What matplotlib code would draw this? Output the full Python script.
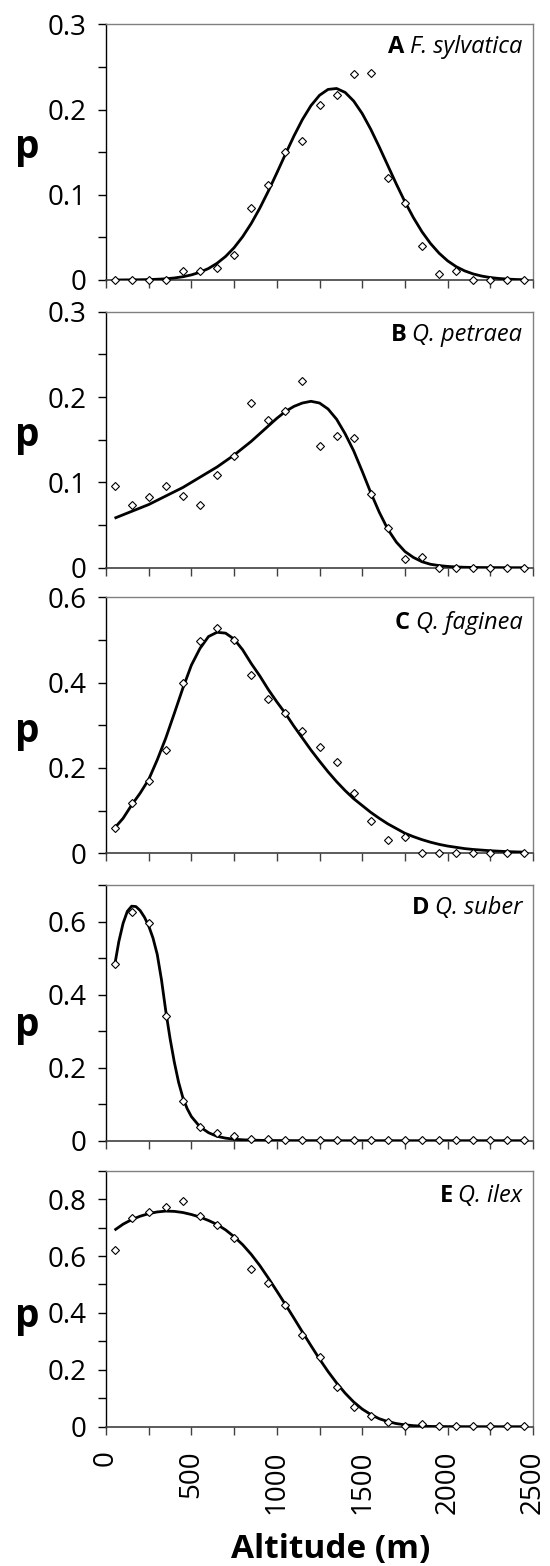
import matplotlib
matplotlib.use('Agg')
import matplotlib.pyplot as plt
from matplotlib.ticker import MultipleLocator

plt.rcParams['font.family'] = ['Open Sans', 'DejaVu Sans']

# ---------------- data ----------------
alt_points = [50, 150, 250, 350, 450, 550, 650, 750, 850, 950, 1050, 1150, 1250,
              1350, 1450, 1550, 1650, 1750, 1850, 1950, 2050, 2150, 2250, 2350, 2450]

alt_curve = [50, 100, 150, 200, 250, 300, 350, 400, 450, 500, 550, 600, 650, 700,
             750, 800, 850, 900, 950, 1000, 1050, 1100, 1150, 1200, 1250, 1300,
             1350, 1400, 1450, 1500, 1550, 1600, 1650, 1700, 1750, 1800, 1850,
             1900, 1950, 2000, 2050, 2100, 2150, 2200, 2250, 2300, 2350, 2400, 2450]

# A  F. sylvatica
obs_A = [0, 0, 0, 0, 0.010, 0.010, 0.0145, 0.029, 0.085, 0.112, 0.150, 0.163, 0.205,
         0.217, 0.242, 0.243, 0.120, 0.090, 0.040, 0.0074, 0.011, 0, 0, 0, 0]
fit_A = [0.0000, 0.0001, 0.0002, 0.0003, 0.0005, 0.0009, 0.0014, 0.0024, 0.0038,
         0.0060, 0.0091, 0.0135, 0.0196, 0.0276, 0.0379, 0.0508, 0.0662, 0.0841,
         0.1041, 0.1255, 0.1474, 0.1688, 0.1883, 0.2046, 0.2167, 0.2236, 0.2247,
         0.2201, 0.2100, 0.1953, 0.1769, 0.1561, 0.1343, 0.1125, 0.0918, 0.0731,
         0.0566, 0.0428, 0.0315, 0.0225, 0.0157, 0.0107, 0.0071, 0.0046, 0.0029,
         0.0018, 0.0011, 0.0006, 0.0003]

# B  Q. petraea
obs_B = [0.096, 0.073, 0.083, 0.096, 0.084, 0.074, 0.109, 0.131, 0.193, 0.173, 0.184,
         0.219, 0.143, 0.154, 0.152, 0.086, 0.047, 0.010, 0.012, 0, 0, 0, 0, 0, 0]
fit_B = [0.058, 0.062, 0.066, 0.070, 0.074, 0.079, 0.084, 0.089, 0.094, 0.100, 0.106,
         0.112, 0.118, 0.125, 0.132, 0.140, 0.148, 0.157, 0.166, 0.175, 0.183, 0.189,
         0.193, 0.195, 0.193, 0.186, 0.174, 0.157, 0.137, 0.113, 0.088, 0.065, 0.045,
         0.030, 0.019, 0.012, 0.007, 0.004, 0.0025, 0.0015, 0.0009, 0.0005, 0.0003,
         0.0002, 0.0001, 0.0001, 0.0, 0.0, 0.0]

# C  Q. faginea
obs_C = [0.060, 0.117, 0.170, 0.241, 0.400, 0.498, 0.527, 0.500, 0.419, 0.362, 0.330,
         0.2875, 0.248, 0.215, 0.141, 0.076, 0.031, 0.038, 0.001, 0.001, 0.001, 0.001,
         0.001, 0.001, 0.001]
fit_C = [0.059, 0.082, 0.113, 0.141, 0.173, 0.219, 0.270, 0.328, 0.387, 0.441, 0.480,
         0.508, 0.518, 0.516, 0.502, 0.477, 0.445, 0.416, 0.384, 0.355, 0.328, 0.298,
         0.270, 0.242, 0.216, 0.191, 0.168, 0.147, 0.128, 0.112, 0.096, 0.082, 0.069,
         0.058, 0.047, 0.039, 0.032, 0.026, 0.021, 0.017, 0.014, 0.011, 0.009, 0.0075,
         0.006, 0.005, 0.004, 0.0033, 0.0028]

# D  Q. suber
obs_D = [0.484, 0.625, 0.597, 0.342, 0.110, 0.038, 0.020, 0.013, 0.005, 0.005, 0.002,
         0.001, 0.001, 0.001, 0.001, 0.001, 0.001, 0.001, 0.001, 0.001, 0.001, 0.001,
         0.001, 0.001, 0.001]
alt_curve_D = [50, 75, 100, 125, 150, 175, 200, 225, 250, 275, 300, 325, 350, 375,
               400, 425, 450, 475, 500, 550, 600, 650, 700, 750, 800, 850, 900, 950,
               1000, 1100, 1200, 1300, 1400, 1500, 1600, 1700, 1800, 1900, 2000,
               2100, 2200, 2300, 2400, 2450]
fit_D = [0.478, 0.545, 0.595, 0.628, 0.642, 0.641, 0.630, 0.612, 0.588, 0.555, 0.510,
         0.440, 0.355, 0.280, 0.215, 0.160, 0.118, 0.088, 0.066, 0.038, 0.022, 0.012,
         0.007, 0.004, 0.0025, 0.0015, 0.001, 0.0006, 0.0004, 0.0002, 0.0001, 0.0,
         0.0, 0.0, 0.0, 0.0, 0.0, 0.0, 0.0, 0.0, 0.0, 0.0, 0.0, 0.0]

# E  Q. ilex
obs_E = [0.621, 0.733, 0.754, 0.773, 0.795, 0.741, 0.710, 0.662, 0.554, 0.506, 0.429,
         0.324, 0.246, 0.141, 0.070, 0.039, 0.015, 0.002, 0.009, 0.002, 0.002, 0.002,
         0.002, 0.002, 0.002]
fit_E = [0.691, 0.712, 0.728, 0.740, 0.749, 0.755, 0.758, 0.757, 0.753, 0.746, 0.737,
         0.725, 0.711, 0.692, 0.668, 0.640, 0.606, 0.567, 0.523, 0.477, 0.430, 0.382,
         0.333, 0.285, 0.238, 0.194, 0.154, 0.118, 0.087, 0.062, 0.043, 0.028, 0.018,
         0.011, 0.0065, 0.0037, 0.002, 0.001, 0.0005, 0.0003, 0.0002, 0.0001, 0.0,
         0.0, 0.0, 0.0, 0.0, 0.0, 0.0]

panel_letters = ['A', 'B', 'C', 'D', 'E']
species = ['F. sylvatica', 'Q. petraea', 'Q. faginea', 'Q. suber', 'Q. ilex']
y_max = [0.3, 0.3, 0.6, 0.7, 0.9]
y_label_step = [0.1, 0.1, 0.2, 0.2, 0.2]
y_minor_step = [0.05, 0.05, 0.1, 0.1, 0.1]
x_tick_labels = ['0', '500', '1000', '1500', '2000', '2500']
x_label_vals = [0, 500, 1000, 1500, 2000, 2500]

obs_all = [obs_A, obs_B, obs_C, obs_D, obs_E]
fit_all = [fit_A, fit_B, fit_C, fit_D, fit_E]
fit_x_all = [alt_curve, alt_curve, alt_curve, alt_curve_D, alt_curve]

# ---------------- layout ----------------
W, H = 550, 1566
fig = plt.figure(figsize=(W / 100, H / 100), dpi=100)

left_px, right_px = 106, 533
tops_px = [24.3, 311.7, 597.3, 885.0, 1170.7]
bots_px = [280.0, 567.7, 853.3, 1140.7, 1426.7]
p_base_px = [158.3, 446.3, 742.3, 1036.3, 1327.0]
spec_base_below_top = [29.0, 29.3, 31.5, 29.3, 31.0]

for i in range(5):
    hpx = bots_px[i] - tops_px[i]
    ax = fig.add_axes([left_px / W, 1 - bots_px[i] / H,
                       (right_px - left_px) / W, hpx / H])
    ax.plot(fit_x_all[i], fit_all[i], color='black', lw=2.0, zorder=3,
            solid_capstyle='butt')
    ax.plot(alt_points, obs_all[i], linestyle='none', marker='D', ms=4.2,
            mfc='white', mec='black', mew=0.8, zorder=4, clip_on=False)

    ax.set_xlim(0, 2500)
    ax.set_ylim(0, y_max[i])
    ax.xaxis.set_major_locator(MultipleLocator(500))
    ax.xaxis.set_minor_locator(MultipleLocator(250))
    ax.yaxis.set_major_locator(MultipleLocator(y_label_step[i]))
    ax.yaxis.set_minor_locator(MultipleLocator(y_minor_step[i]))

    ax.tick_params(axis='both', which='both', direction='out', length=6, width=1)
    ax.tick_params(axis='y', which='both', colors='black', labelsize=20, pad=8)
    ax.tick_params(axis='x', which='both', color='#404040', labelsize=20, pad=11)
    ax.tick_params(top=False, right=False)

    yt = []
    v = 0.0
    while v <= y_max[i] + 1e-9:
        yt.append(round(v, 2))
        v += y_label_step[i]
    ax.set_yticks(yt)
    ax.set_yticklabels(['0' if t == 0 else f'{t:g}' for t in yt])

    if i == 4:
        ax.set_xticks(x_label_vals)
        ax.set_xticklabels(x_tick_labels, rotation=90, va='top', ha='center')
        ax.text((331 - left_px) / (right_px - left_px),
                (bots_px[i] - 1557.7) / hpx, 'Altitude (m)',
                transform=ax.transAxes, ha='center', va='baseline',
                fontsize=24, fontweight='bold')
    else:
        ax.set_xticklabels([])

    for side in ['top', 'right']:
        ax.spines[side].set_color('#808080')
        ax.spines[side].set_linewidth(1.0)
    ax.spines['left'].set_color('black')
    ax.spines['left'].set_linewidth(1.0)
    ax.spines['bottom'].set_color('#404040')
    ax.spines['bottom'].set_linewidth(1.2)

    ax.text((27.5 - left_px) / (right_px - left_px),
            (bots_px[i] - p_base_px[i]) / hpx, 'p',
            transform=ax.transAxes, ha='center', va='baseline',
            fontsize=28, fontweight='bold')

    sp = ax.text(0.975, 1 - spec_base_below_top[i] / hpx, species[i],
                 transform=ax.transAxes, ha='right', va='baseline',
                 fontsize=17, style='italic')
    ax.annotate(panel_letters[i], xy=(0, 0), xycoords=sp, xytext=(-4, 0),
                textcoords='offset points', ha='right', va='bottom',
                fontsize=17, fontweight='bold')

fig.savefig('out.png', dpi=100)
